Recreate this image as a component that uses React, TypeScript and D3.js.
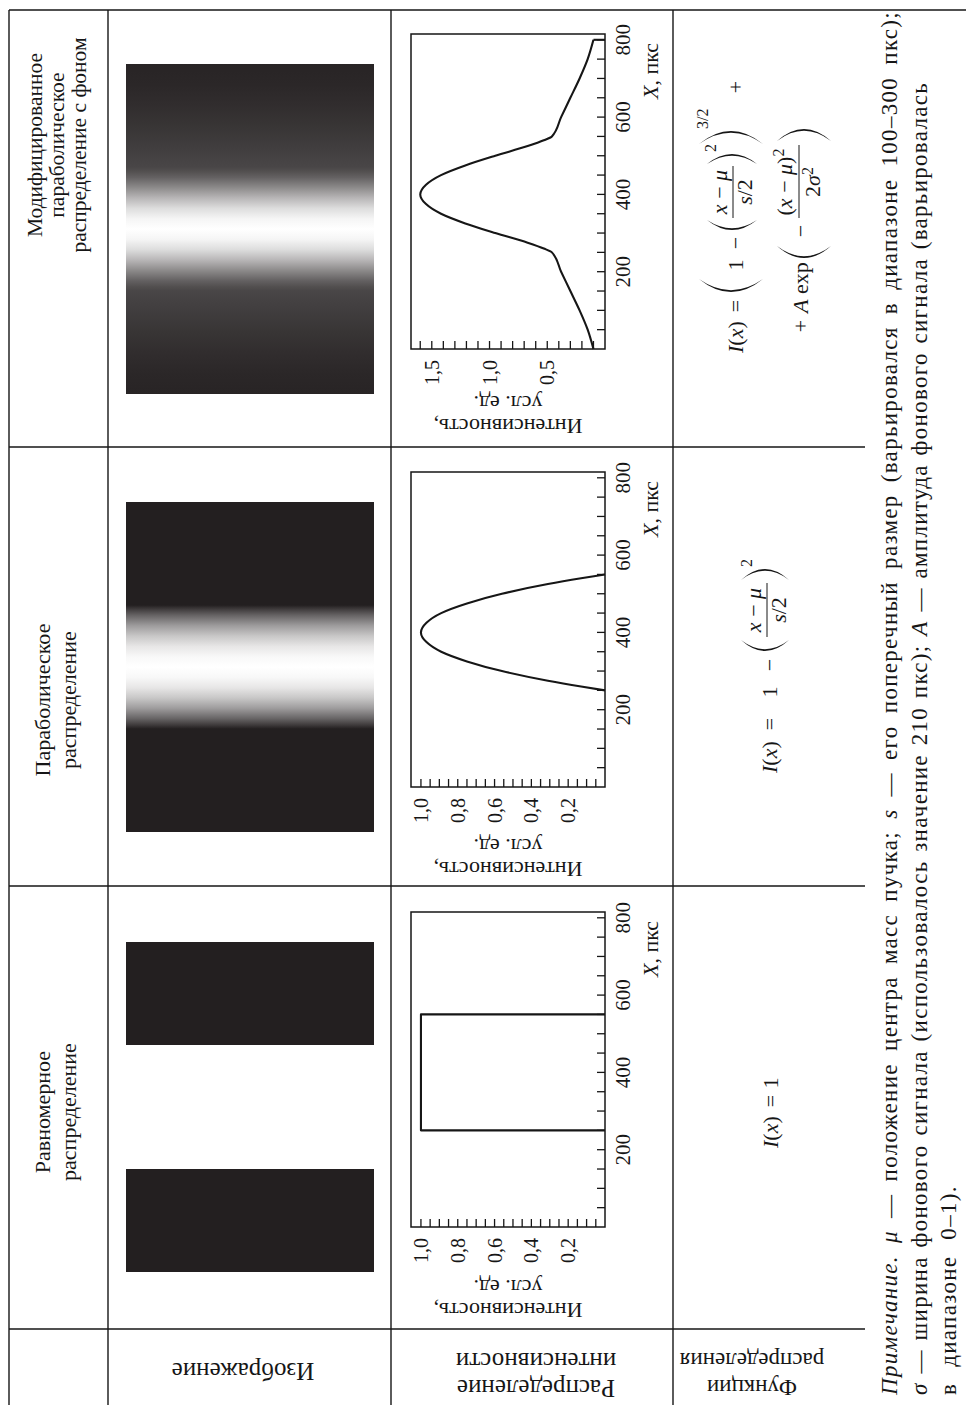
import * as d3 from "d3";
import { useLayoutEffect, useRef } from "react";

const W = 966;
const H = 1405;
const FONT = "'Liberation Serif', 'Times New Roman', serif";
const INK = "#161616";

// values
const columnTitles = [
  ["Равномерное", "распределение"],
  ["Параболическое", "распределение"],
  ["Модифицированное", "параболическое", "распределение с фоном"],
];
const rowTitles = [["Изображение"], ["Распределение", "интенсивности"], ["Функции", "распределения"]];

const uniformX = [250, 250, 550, 550];
const uniformI = [0, 1, 1, 0];

const parabolicX = [250, 260, 275, 300, 325, 350, 375, 400, 425, 450, 475, 500, 525, 540, 550];
const parabolicI = [0, 0.13, 0.31, 0.56, 0.75, 0.89, 0.97, 1.0, 0.97, 0.89, 0.75, 0.56, 0.31, 0.13, 0];

const modifiedX = [0, 50, 100, 150, 200, 250, 260, 275, 300, 325, 350, 375, 400, 425, 450, 475, 500, 525, 540, 550, 600, 650, 700, 750, 800];
const modifiedI = [0.1, 0.15, 0.22, 0.3, 0.38, 0.46, 0.53, 0.67, 0.95, 1.21, 1.42, 1.55, 1.6, 1.55, 1.42, 1.21, 0.95, 0.67, 0.53, 0.46, 0.38, 0.3, 0.22, 0.15, 0.1];

const xTickValues = [200, 400, 600, 800];
const xTickLabels = ["200", "400", "600", "800"];
const unitYTicks = [0.2, 0.4, 0.6, 0.8, 1.0];
const unitYLabels = ["0,2", "0,4", "0,6", "0,8", "1,0"];
const modYTicks = [0.5, 1.0, 1.5];
const modYLabels = ["0,5", "1,0", "1,5"];

// layout, in the unrotated (landscape) frame; the whole table is turned -90deg at the end
const rowLines = [9, 108, 391, 673];
const colLines = [76, 519, 958];
const PLOT_TOP = 411;
const PLOT_BOTTOM = 605;
const PLOT_W = 315;

const columns = [
  {
    key: "uni", title: columnTitles[0], titleX: 293, titleY: [50, 76], titleSize: 22, gamma: 1,
    imgLeft: 133, chartLeft: 178, xs: uniformX, ys: uniformI, yMax: 1.054, yStep: 0.05,
    yTicks: unitYTicks, yLabels: unitYLabels, titleOff: [76, 53], curve: d3.curveLinear, drop: false,
  },
  {
    key: "par", title: columnTitles[1], titleX: 705, titleY: [50, 76], titleSize: 22, gamma: 1,
    imgLeft: 573, chartLeft: 618, xs: parabolicX, ys: parabolicI, yMax: 1.054, yStep: 0.05,
    yTicks: unitYTicks, yLabels: unitYLabels, titleOff: [75, 52], curve: d3.curveMonotoneX, drop: false,
  },
  {
    key: "mod", title: columnTitles[2], titleX: 1260, titleY: [42, 64, 86], titleSize: 21.5, gamma: 1.4,
    imgLeft: 1011, chartLeft: 1056, xs: modifiedX, ys: modifiedI, yMax: 1.68, yStep: 0.1,
    yTicks: modYTicks, yLabels: modYLabels, titleOff: [70, 47], curve: d3.curveMonotoneX, drop: true,
  },
];

type Col = (typeof columns)[number];

function shade(t: number, gamma: number) {
  return d3.interpolateRgb("#231f20", "#ffffff")(Math.pow(Math.max(0, Math.min(1, t)), gamma));
}

function Picture({ c }: { c: Col }) {
  const pts: [number, number][] = c.xs.map((v, i) => [v, c.ys[i]]);
  if (pts[0][0] > 0) pts.unshift([0, 0]);
  if (pts[pts.length - 1][0] < 800) pts.push([800, 0]);
  const peak = d3.max(c.ys) as number;
  const id = `grad-${c.key}`;
  return (
    <g>
      <defs>
        <linearGradient id={id} x1="0" x2="1" y1="0" y2="0">
          {pts.map((p, i) => (
            <stop key={i} offset={p[0] / 800} stopColor={shade(p[1] / peak, c.gamma)} />
          ))}
        </linearGradient>
      </defs>
      <rect x={c.imgLeft} y={126} width={330} height={248} fill={`url(#${id})`} />
    </g>
  );
}

function Chart({ c }: { c: Col }) {
  const x = d3.scaleLinear().domain([0, 815]).range([c.chartLeft, c.chartLeft + PLOT_W]);
  const y = d3.scaleLinear().domain([0, c.yMax]).range([PLOT_BOTTOM, PLOT_TOP]);
  const pts: [number, number][] = c.xs.map((v, i) => [v, c.ys[i]]);
  const line = d3.line<[number, number]>().x((d) => x(d[0])).y((d) => y(d[1])).curve(c.curve);
  const minorX = d3.range(50, 801, 50);
  const n = Math.floor(c.yMax / c.yStep + 1e-6);
  const minorY = d3.range(1, n + 1).map((k) => k * c.yStep).filter((v) => y(v) > PLOT_TOP + 3);
  const last = pts[pts.length - 1];
  const midY = (PLOT_TOP + PLOT_BOTTOM) / 2;
  return (
    <g>
      <rect x={x(0)} y={PLOT_TOP} width={PLOT_W} height={PLOT_BOTTOM - PLOT_TOP} fill="none" stroke={INK} strokeWidth={1.5} />
      {minorX.map((v) => (
        <line key={`x${v}`} x1={x(v)} x2={x(v)} y1={PLOT_BOTTOM} y2={PLOT_BOTTOM - 8} stroke={INK} strokeWidth={1.3} />
      ))}
      {minorY.map((v) => (
        <line key={`y${v}`} x1={x(0)} x2={x(0) + 8} y1={y(v)} y2={y(v)} stroke={INK} strokeWidth={1.3} />
      ))}
      <path d={line(pts) || ""} fill="none" stroke={INK} strokeWidth={2.1} strokeLinejoin="round" />
      {c.drop && <path d={line([last, [last[0], 0]]) || ""} fill="none" stroke={INK} strokeWidth={2.1} />}
      {xTickValues.map((v, i) => (
        <text key={`xl${v}`} x={x(v)} y={630} textAnchor="middle" fontSize={21}>
          {xTickLabels[i]}
        </text>
      ))}
      <text x={x(792)} y={658} textAnchor="end" fontSize={22}>
        <tspan fontStyle="italic">X</tspan>, пкс
      </text>
      {c.yTicks.map((v, i) => (
        <text key={`yl${v}`} x={x(0) - 11} y={y(v)} dy="0.35em" textAnchor="end" fontSize={20}>
          {c.yLabels[i]}
        </text>
      ))}
      <text transform={`translate(${x(0) - c.titleOff[0]},${midY}) rotate(-90)`} textAnchor="middle" fontSize={22}>
        Интенсивность,
      </text>
      <text transform={`translate(${x(0) - c.titleOff[1]},${midY}) rotate(-90)`} textAnchor="middle" fontSize={22}>
        усл. ед.
      </text>
    </g>
  );
}

function paren(x0: number, x1: number, top: number, bottom: number, open: boolean) {
  const mid = (top + bottom) / 2;
  if (open) {
    const c1 = 2 * x0 - x1;
    const c2 = 2 * (x0 + 1.8) - x1;
    return `M${x1},${top} Q${c1},${mid} ${x1},${bottom} Q${c2},${mid} ${x1},${top}Z`;
  }
  const c1 = 2 * x1 - x0;
  const c2 = 2 * (x1 - 1.8) - x0;
  return `M${x0},${top} Q${c1},${mid} ${x0},${bottom} Q${c2},${mid} ${x0},${top}Z`;
}

const It = ({ children }: { children: string }) => <tspan fontStyle="italic">{children}</tspan>;

function Formulas() {
  return (
    <g fontSize={22}>
      {/* uniform */}
      <text x={257} y={778}>
        <It>I</It>(<It>x</It>)
      </text>
      <text x={304} y={778} textAnchor="middle">=</text>
      <text x={322} y={778} textAnchor="middle">1</text>

      {/* parabolic */}
      <text x={632} y={777}>
        <It>I</It>(<It>x</It>)
      </text>
      <text x={681} y={777} textAnchor="middle">=</text>
      <text x={713} y={777} textAnchor="middle">1</text>
      <text x={740} y={777} textAnchor="middle">−</text>
      <path d={paren(754, 765, 741, 789, true)} fill={INK} />
      <text x={795} y={761} textAnchor="middle">
        <It>x</It> − <It>μ</It>
      </text>
      <line x1={768} x2={822} y1={767} y2={767} stroke={INK} strokeWidth={1} />
      <text x={795} y={786} textAnchor="middle">
        <It>s</It>/2
      </text>
      <path d={paren(825, 836, 741, 789, false)} fill={INK} />
      <text x={838} y={752} fontSize={16}>2</text>

      {/* modified, first line */}
      <text x={1052} y={743}>
        <It>I</It>(<It>x</It>)
      </text>
      <text x={1099} y={743} textAnchor="middle">=</text>
      <path d={paren(1113, 1126, 699, 763, true)} fill={INK} />
      <text x={1140} y={743} textAnchor="middle">1</text>
      <text x={1162} y={743} textAnchor="middle">−</text>
      <path d={paren(1175, 1185, 707, 757, true)} fill={INK} />
      <text x={1213} y={727} textAnchor="middle">
        <It>x</It> − <It>μ</It>
      </text>
      <line x1={1187} x2={1239} y1={733} y2={733} stroke={INK} strokeWidth={1} />
      <text x={1213} y={752} textAnchor="middle">
        <It>s</It>/2
      </text>
      <path d={paren(1241, 1251, 707, 757, false)} fill={INK} />
      <text x={1253} y={716} fontSize={16}>2</text>
      <path d={paren(1261, 1274, 699, 763, false)} fill={INK} />
      <text x={1276} y={708} fontSize={16}>3/2</text>
      <text x={1318} y={743} textAnchor="middle">+</text>

      {/* modified, second line */}
      <text x={1079} y={808} textAnchor="middle">+</text>
      <text x={1092} y={808}>
        <It>A</It> exp
      </text>
      <path d={paren(1147, 1159, 777, 831, true)} fill={INK} />
      <text x={1174} y={808} textAnchor="middle">−</text>
      <text x={1223} y={792} textAnchor="middle">
        (<It>x</It> − <It>μ</It>)<tspan fontSize={16} dy={-8}>2</tspan>
      </text>
      <line x1={1187} x2={1260} y1={799} y2={799} stroke={INK} strokeWidth={1} />
      <text x={1223} y={820} textAnchor="middle">
        2<It>σ</It>
        <tspan fontSize={16} dy={-7}>2</tspan>
      </text>
      <path d={paren(1264, 1276, 777, 831, false)} fill={INK} />
    </g>
  );
}

// justify a line: a little letter spacing, the rest of the room goes into the word gaps
function JustLine({ x, y, width, children }: { x: number; y: number; width: number; children: any }) {
  const ref = useRef<SVGTextElement>(null);
  useLayoutEffect(() => {
    const el = ref.current;
    if (!el) return;
    el.setAttribute("word-spacing", "0");
    const natural = el.getBBox().width;
    const gaps = (el.textContent || "").trim().split(/\s+/).length - 1;
    if (gaps > 0) el.setAttribute("word-spacing", String(Math.max(0, (width - natural) / gaps)));
  }, [width]);
  return (
    <text ref={ref} x={x} y={y} letterSpacing={1.3}>
      {children}
    </text>
  );
}

function Note() {
  return (
    <g fontSize={23}>
      <JustLine x={10} y={897} width={1385}>
        <It>Примечание.</It> <It>μ</It> — положение центра масс пучка; <It>s</It> — его поперечный размер
        (варьировался в диапазоне 100–300 пкс);
      </JustLine>
      <JustLine x={10} y={927} width={1313}>
        <It>σ</It> — ширина фонового сигнала (использовалось значение 210 пкс); <It>A</It> — амплитуда фонового
        сигнала (варьировалась
      </JustLine>
      <text x={10} y={956} letterSpacing={1.3} wordSpacing={9}>
        в диапазоне 0–1).
      </text>
    </g>
  );
}

export default function App() {
  return (
    <div style={{ position: "absolute", left: 0, top: 0, background: "#fff" }}>
      <svg width={W} height={H} viewBox={`0 0 ${W} ${H}`} style={{ display: "block", fontFamily: FONT }} fill={INK}>
        <rect width={W} height={H} fill="#fff" />
        <g transform={`translate(0,${H}) rotate(-90)`}>
          {/* table rules */}
          {rowLines.map((v) => (
            <line key={`r${v}`} x1={0} x2={1395} y1={v} y2={v} stroke={INK} strokeWidth={1.4} />
          ))}
          {colLines.map((v) => (
            <line key={`c${v}`} x1={v} x2={v} y1={9} y2={865} stroke={INK} strokeWidth={1.4} />
          ))}
          <line x1={1395} x2={1395} y1={9} y2={W} stroke={INK} strokeWidth={1.4} />

          {/* column headers */}
          {columns.map((c) =>
            c.title.map((t, i) => (
              <text key={`${c.key}h${i}`} x={c.titleX} y={c.titleY[i]} textAnchor="middle" fontSize={c.titleSize}>
                {t}
              </text>
            ))
          )}

          {/* row headers, written upwards */}
          <text transform="translate(42,243) rotate(-90)" textAnchor="middle" fontSize={25}>
            {rowTitles[0][0]}
          </text>
          {rowTitles[1].map((t, i) => (
            <text key={`rt1${i}`} transform={`translate(${25 + i * 27},536) rotate(-90)`} textAnchor="middle" fontSize={25}>
              {t}
            </text>
          ))}
          {rowTitles[2].map((t, i) => (
            <text key={`rt2${i}`} transform={`translate(${25 + i * 27},752) rotate(-90)`} textAnchor="middle" fontSize={23}>
              {t}
            </text>
          ))}

          {columns.map((c) => (
            <Picture key={`p${c.key}`} c={c} />
          ))}
          {columns.map((c) => (
            <Chart key={`g${c.key}`} c={c} />
          ))}
          <Formulas />
          <Note />
        </g>
      </svg>
    </div>
  );
}
